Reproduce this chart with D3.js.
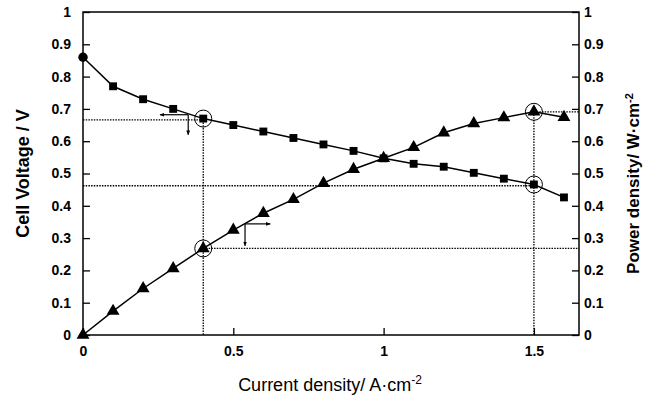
<!DOCTYPE html>
<html>
  <head>
    <meta charset="utf-8" />
    <script src="https://d3js.org/d3.v7.min.js"></script>
    <style>
      body { margin: 0; background: #fff; }
      svg { font-family: "Liberation Sans", Arial, sans-serif; }
    </style>
  </head>
  <body>
    <script>
      // values
      const current = [0, 0.1, 0.2, 0.3, 0.4, 0.5, 0.6, 0.7, 0.8, 0.9, 1.0, 1.1, 1.2, 1.3, 1.4, 1.5, 1.6];
      const voltage = [0.86, 0.77, 0.73, 0.70, 0.67, 0.65, 0.63, 0.61, 0.59, 0.57, 0.547, 0.53, 0.521, 0.502, 0.484, 0.466, 0.426];
      const power = [0, 0.074, 0.144, 0.206, 0.268, 0.325, 0.377, 0.42, 0.47, 0.513, 0.547, 0.581, 0.626, 0.655, 0.673, 0.691, 0.674];
      const yTicks = [0, 0.1, 0.2, 0.3, 0.4, 0.5, 0.6, 0.7, 0.8, 0.9, 1];
      const xTicks = [0, 0.5, 1, 1.5];

      // dotted read-off lines [x1, y1, x2, y2]
      const guides = [
        [0, 0.666, 0.4, 0.666],
        [0.4, 0.666, 0.4, 0],
        [0, 0.462, 1.5, 0.462],
        [1.5, 0.691, 1.5, 0],
        [0.4, 0.268, 1.65, 0.268],
        [1.5, 0.691, 1.65, 0.691]
      ];
      // highlighted operating points
      const marked = [[0.4, 0.67], [0.4, 0.268], [1.5, 0.466], [1.5, 0.691]];
      // arrow pairs: corner, then two tips
      const arrows = [
        [[0.35, 0.682], [0.256, 0.682], [0.35, 0.62]],
        [[0.539, 0.344], [0.623, 0.344], [0.539, 0.276]]
      ];

      const width = 651, height = 403;
      const x = d3.scaleLinear().domain([0, 1.65]).range([83, 579]);
      const yL = d3.scaleLinear().domain([0, 1]).range([335, 12]);
      const yR = d3.scaleLinear().domain([0, 1]).range([335, 12]);

      const svg = d3.select("body").append("svg")
        .attr("width", width)
        .attr("height", height);

      svg.append("defs").append("marker")
        .attr("id", "ah")
        .attr("viewBox", "0 0 10 10")
        .attr("refX", 9).attr("refY", 5)
        .attr("markerWidth", 4).attr("markerHeight", 4)
        .attr("orient", "auto")
        .append("path").attr("d", "M0,1L10,5L0,9Z").attr("fill", "#000");

      // frame
      svg.append("rect")
        .attr("x", x(0)).attr("y", yL(1))
        .attr("width", x(1.65) - x(0)).attr("height", yL(0) - yL(1))
        .attr("fill", "none").attr("stroke", "#000").attr("stroke-width", 1.5);

      const fmt = d3.format("~g");
      const styleAxis = g => {
        g.select(".domain").remove();
        g.selectAll(".tick line").attr("stroke", "#000").attr("stroke-width", 1.3);
        g.selectAll(".tick text")
          .attr("font-size", 14).attr("font-weight", "bold").attr("fill", "#000");
      };

      svg.append("g").attr("transform", `translate(${x(0)},0)`)
        .call(d3.axisLeft(yL).tickValues(yTicks).tickFormat(fmt).tickSizeInner(-7).tickSizeOuter(0).tickPadding(12))
        .call(styleAxis);
      svg.append("g").attr("transform", `translate(${x(1.65)},0)`)
        .call(d3.axisRight(yR).tickValues(yTicks).tickFormat(fmt).tickSizeInner(-7).tickSizeOuter(0).tickPadding(5))
        .call(styleAxis);
      svg.append("g").attr("transform", `translate(0,${yL(0)})`)
        .call(d3.axisBottom(x).tickValues(xTicks).tickFormat(fmt).tickSizeInner(-7).tickSizeOuter(0).tickPadding(11))
        .call(styleAxis);

      // guides
      svg.append("g").selectAll("line").data(guides).join("line")
        .attr("x1", d => x(d[0])).attr("y1", d => yL(d[1]))
        .attr("x2", d => x(d[2])).attr("y2", d => yL(d[3]))
        .attr("stroke", "#000").attr("stroke-width", 1.3)
        .attr("stroke-dasharray", "1.5,1.2");

      // curves
      const line = d3.line();
      svg.append("path")
        .attr("d", line(current.map((c, i) => [x(c), yL(voltage[i])])))
        .attr("fill", "none").attr("stroke", "#000").attr("stroke-width", 1.5);
      svg.append("path")
        .attr("d", line(current.map((c, i) => [x(c), yR(power[i])])))
        .attr("fill", "none").attr("stroke", "#000").attr("stroke-width", 1.5);

      // voltage markers: circle at open circuit, squares otherwise
      svg.append("g").selectAll("path").data(current).join("path")
        .attr("transform", (c, i) => `translate(${x(c)},${yL(voltage[i])})`)
        .attr("d", (c, i) => d3.symbol(i === 0 ? d3.symbolCircle : d3.symbolSquare, i === 0 ? 70 : 62)())
        .attr("fill", "#000");

      // power markers
      svg.append("g").selectAll("path").data(current).join("path")
        .attr("transform", (c, i) => `translate(${x(c)},${yR(power[i])})`)
        .attr("d", d3.symbol(d3.symbolTriangle, 72)())
        .attr("fill", "#000");

      // open rings
      svg.append("g").selectAll("circle").data(marked).join("circle")
        .attr("cx", d => x(d[0])).attr("cy", d => yL(d[1]))
        .attr("r", 8.5)
        .attr("fill", "none").attr("stroke", "#000").attr("stroke-width", 1);

      // direction arrows
      const ag = svg.append("g");
      arrows.forEach(a => {
        [a[1], a[2]].forEach(tip => {
          ag.append("line")
            .attr("x1", x(a[0][0])).attr("y1", yL(a[0][1]))
            .attr("x2", x(tip[0])).attr("y2", yL(tip[1]))
            .attr("stroke", "#000").attr("stroke-width", 1.2)
            .attr("marker-end", "url(#ah)");
        });
      });

      // titles
      svg.append("text")
        .attr("transform", `translate(29,${(yL(0) + yL(1)) / 2}) rotate(-90)`)
        .attr("text-anchor", "middle")
        .attr("font-size", 18).attr("font-weight", "bold")
        .text("Cell Voltage / V");

      const rt = svg.append("text")
        .attr("transform", `translate(639,${(yL(0) + yL(1)) / 2 + 10}) rotate(-90)`)
        .attr("text-anchor", "middle")
        .attr("font-size", 17).attr("font-weight", "bold");
      rt.append("tspan").text("Power density/ W·cm");
      rt.append("tspan").attr("dy", -6).attr("font-size", 11).text("-2");

      const bt = svg.append("text")
        .attr("x", 330).attr("y", 391)
        .attr("text-anchor", "middle")
        .attr("font-size", 18)
        .text("Current density/ A·cm");
      bt.append("tspan").attr("dy", -7).attr("font-size", 12).text("-2");
    </script>
  </body>
</html>
